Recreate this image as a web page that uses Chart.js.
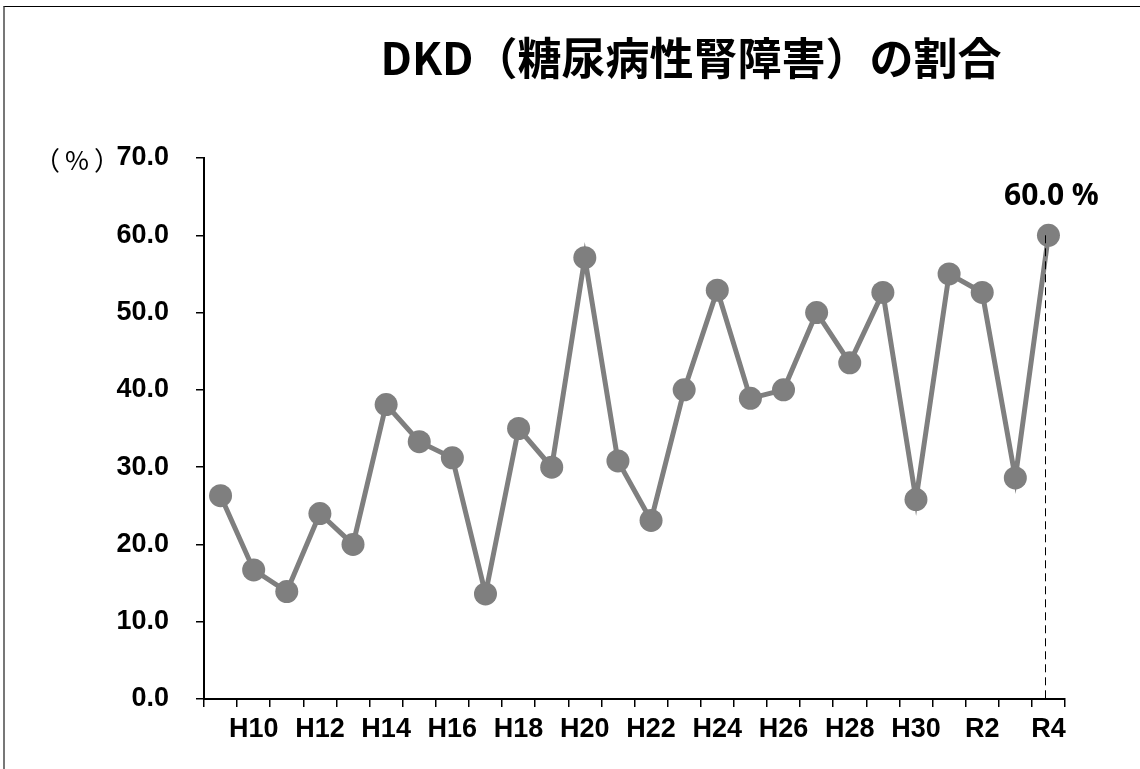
<!DOCTYPE html>
<html>
<head>
<meta charset="utf-8">
<script src="https://cdn.jsdelivr.net/npm/chart.js@4"></script>
<style>
    html, body { margin: 0; padding: 0; background: #fff; }
    #wrap { position: relative; width: 1140px; height: 769px; }
    #frame { position: absolute; left: 3px; top: 6px; right: 0; bottom: 0;
             border-top: 1px solid #000; border-left: 2px solid #777; pointer-events: none; }
    canvas { display: block; }
</style>
</head>
<body>
<div id="wrap"><canvas id="dkdChart" width="1140" height="769"></canvas><div id="frame"></div></div>
<script>
// Data: fiscal years H9 .. R4 and DKD share (%)
const years = ['H9', 'H10', 'H11', 'H12', 'H13', 'H14', 'H15', 'H16', 'H17', 'H18', 'H19',
    'H20', 'H21', 'H22', 'H23', 'H24', 'H25', 'H26', 'H27', 'H28', 'H29', 'H30',
    'R1', 'R2', 'R3', 'R4'];
const dkdRatio = [26.3, 16.7, 13.9, 24.0, 20.0, 38.1, 33.3, 31.2, 13.6, 35.0, 30.0,
    57.1, 30.8, 23.1, 40.0, 52.9, 38.9, 40.0, 50.0, 43.5, 52.6, 25.8,
    55.0, 52.6, 28.6, 60.0];
const yTicks = [0, 10, 20, 30, 40, 50, 60, 70];

const titleText = 'DKD（糖尿病性腎障害）の割合';
const unitText = '（%）';
const latestLabel = dkdRatio[dkdRatio.length - 1].toFixed(1) + ' %';

const LATIN = '"Liberation Sans", Arial, sans-serif';
const CJK = '"Noto Sans CJK JP", "Noto Sans", sans-serif';

// Draws the title, the unit label and the dashed marker for the latest year
const extrasPlugin = {
    id: 'extras',
    afterDraw(chart) {
        const ctx = chart.ctx;
        const area = chart.chartArea;
        const yScale = chart.scales.y;
        ctx.save();

        // title
        ctx.fillStyle = '#000';
        ctx.font = 'bold 44px ' + CJK;
        ctx.textAlign = 'center';
        ctx.textBaseline = 'middle';
        ctx.fillText(titleText, 691, 58);

        // unit label next to the top tick
        ctx.font = '26px ' + CJK;
        ctx.textAlign = 'left';
        ctx.letterSpacing = '5px';
        ctx.fillText(unitText, 34, yScale.getPixelForValue(70) + 2);
        ctx.letterSpacing = '0px';

        // dashed line + value label at the last point
        const meta = chart.getDatasetMeta(0);
        const last = meta.data[meta.data.length - 1];
        const lx = Math.round(last.x - 3) + 0.5;
        ctx.strokeStyle = '#000';
        ctx.lineWidth = 1;
        ctx.setLineDash([8, 5]);
        ctx.beginPath();
        ctx.moveTo(lx, last.y);
        ctx.lineTo(lx, area.bottom);
        ctx.stroke();
        ctx.setLineDash([]);

        ctx.font = 'bold 30px "Open Sans", "Noto Sans", sans-serif';
        ctx.textAlign = 'center';
        ctx.fillText(latestLabel, last.x + 3, last.y - 39);
        ctx.restore();
    }
};

const ctx = document.getElementById('dkdChart').getContext('2d');
new Chart(ctx, {
    type: 'line',
    data: {
        labels: years,
        datasets: [{
            data: dkdRatio,
            borderColor: '#7f7f7f',
            backgroundColor: '#7f7f7f',
            borderWidth: 5,
            pointRadius: 11.5,
            pointHoverRadius: 11.5,
            pointBorderWidth: 0,
            tension: 0
        }]
    },
    options: {
        responsive: false,
        animation: false,
        layout: { padding: { top: 158, right: 75, left: 0, bottom: 0 } },
        plugins: {
            legend: { display: false },
            tooltip: { enabled: false }
        },
        scales: {
            x: {
                offset: true,
                grid: {
                    offset: true,
                    drawOnChartArea: false,
                    drawTicks: true,
                    tickLength: 8,
                    color: '#000',
                    lineWidth: 1.5
                },
                border: { display: true, color: '#000', width: 2 },
                ticks: {
                    autoSkip: false,
                    maxRotation: 0,
                    padding: 6,
                    color: '#000',
                    font: { family: LATIN, size: 27, weight: 'bold' },
                    callback: (value, index) => index % 2 === 1 ? years[index] : ''
                },
                afterFit: scale => { scale.height = 769 - 699; }
            },
            y: {
                min: 0,
                max: 70,
                afterBuildTicks: scale => { scale.ticks = yTicks.map(v => ({ value: v })); },
                grid: {
                    drawOnChartArea: false,
                    drawTicks: true,
                    tickLength: 8,
                    color: '#000',
                    lineWidth: 1.5
                },
                border: { display: true, color: '#000', width: 2 },
                ticks: {
                    padding: 27,
                    color: '#000',
                    font: { family: LATIN, size: 27, weight: 'bold' },
                    callback: v => v.toFixed(1)
                },
                afterFit: scale => { scale.width = 204; }
            }
        }
    },
    plugins: [extrasPlugin]
});
</script>
</body>
</html>
